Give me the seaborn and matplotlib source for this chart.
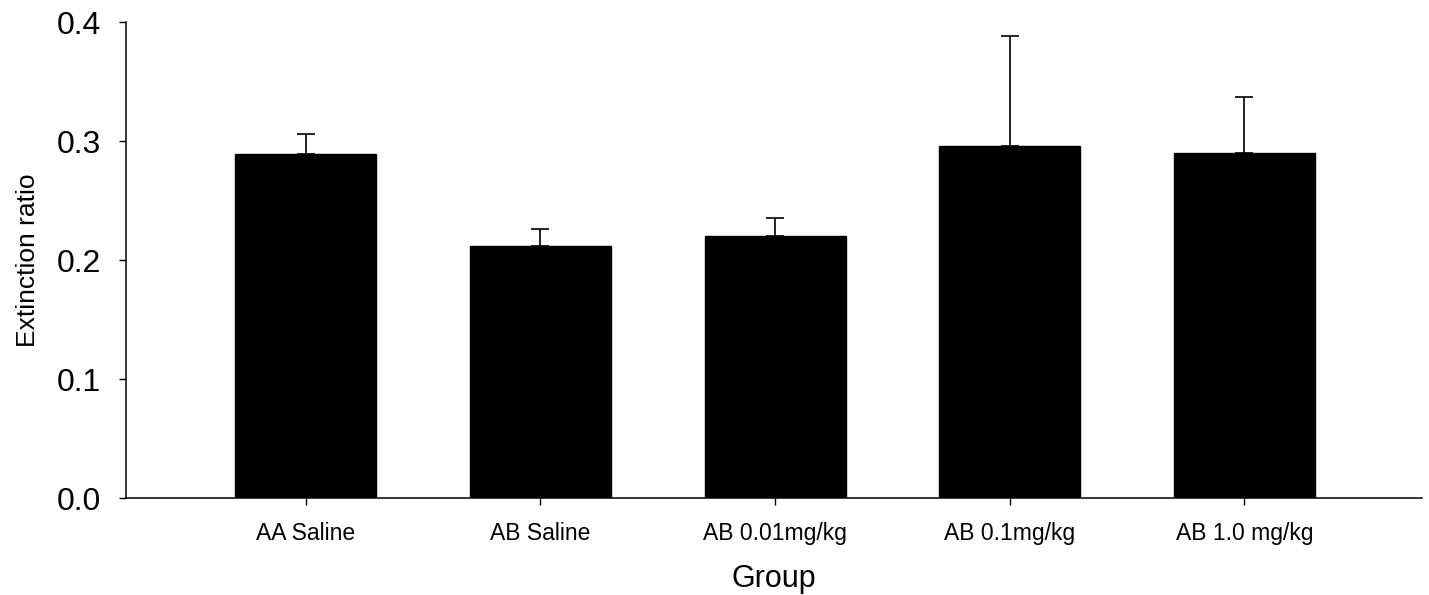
import pandas as pd
import seaborn as sns
import matplotlib.pyplot as plt

# Bar heights and upper error (SEM)
groups = ["AA Saline", "AB Saline", "AB 0.01mg/kg", "AB 0.1mg/kg", "AB 1.0 mg/kg"]
means = [0.289, 0.212, 0.220, 0.296, 0.290]
errors = [0.017, 0.014, 0.015, 0.092, 0.047]

df = pd.DataFrame({"Group": groups, "Extinction ratio": means})

sns.set_style("ticks")
plt.rcParams["font.family"] = ["Liberation Sans", "DejaVu Sans"]
plt.rcParams["text.color"] = "black"
plt.rcParams["axes.labelcolor"] = "black"
plt.rcParams["xtick.color"] = "black"
plt.rcParams["ytick.color"] = "black"
plt.rcParams["axes.edgecolor"] = "black"

fig = plt.figure(figsize=(14.29, 5.95), dpi=100)
ax = fig.add_axes([0.0882, 0.163, 0.907, 0.800])

sns.barplot(data=df, x="Group", y="Extinction ratio", color="black",
            width=0.6, errorbar=None, ax=ax)
for p in ax.patches:
    p.set_facecolor("black")
    p.set_edgecolor("black")

# upper half of the error bars only
ax.errorbar(range(len(groups)), means, yerr=[[0] * len(errors), errors],
            fmt="none", ecolor="black", elinewidth=1.2, capsize=6.5,
            capthick=1.2, zorder=0)

ax.set_ylim(0, 0.4)
ax.set_xlim(-0.766, 4.757)
ax.set_yticks([0.0, 0.1, 0.2, 0.3, 0.4])
ax.set_yticklabels(["0.0", "0.1", "0.2", "0.3", "0.4"])

sns.despine(ax=ax)
for s in ["left", "bottom"]:
    ax.spines[s].set_linewidth(1.1)
ax.tick_params(axis="y", labelsize=23, length=5, width=1, direction="out", pad=13)
ax.tick_params(axis="x", labelsize=16.5, length=5, width=1, direction="out", pad=12)

ax.set_xlabel("Group", fontsize=22, labelpad=14)
ax.set_ylabel("Extinction ratio", fontsize=19, labelpad=12)

plt.savefig("out.png", dpi=100)
